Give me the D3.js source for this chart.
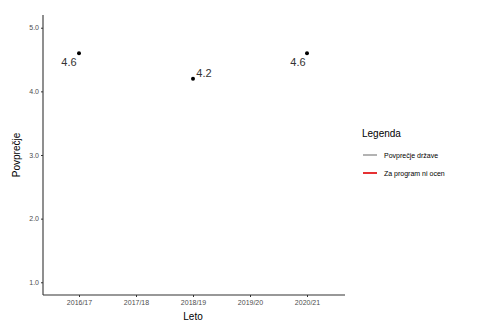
<!DOCTYPE html>
<html><head><meta charset="utf-8">
<script src="https://cdn.jsdelivr.net/npm/d3@7"></script>
<style>body{margin:0;background:#fff;} svg{display:block;font-family:"Liberation Sans",Arial,sans-serif;}</style>
</head><body>
<svg id="c" width="478" height="323"></svg>
<script>
const years = ["2016/17","2017/18","2018/19","2019/20","2020/21"];
const values = [4.6, null, 4.2, null, 4.6];
const labelText = ["4.6", null, "4.2", null, "4.6"];
const yTicks = [1.0, 2.0, 3.0, 4.0, 5.0];
const legendTitle = "Legenda";
const legendItems = ["Povprečje države", "Za program ni ocen"];
const legendColors = ["#808080", "#e41a1c"];
// label offsets (repel-like placement), px
const labelDx = [-10, 0, 11, 0, -9];
const labelDy = [13, 0, -2, 0, 13];

const svg = d3.select("#c");
const m = {l:43, r:133, t:15, b:28};
const W = 478, H = 323;
const x = d3.scalePoint().domain(years).range([79, 307]);
const y = d3.scaleLinear().domain([0.8, 5.2]).range([H - m.b, m.t]);

const g = svg.append("g");
// axes
const yAxis = d3.axisLeft(y).tickValues(yTicks).tickFormat(d3.format(".1f")).tickSize(2).tickPadding(2);
const ya = g.append("g").attr("transform", `translate(${m.l},0)`).call(yAxis);
const xAxis = d3.axisBottom(x).tickSize(2).tickPadding(3);
const xa = g.append("g").attr("transform", `translate(0,${H - m.b})`).call(xAxis);
[ya, xa].forEach(a => {
  a.select(".domain").remove();
  a.selectAll(".tick line").attr("stroke", "#333");
  a.selectAll(".tick text").attr("fill", "#4d4d4d").style("font-size", "7px");
});
g.append("line").attr("x1", m.l).attr("x2", m.l).attr("y1", m.t).attr("y2", H - m.b).attr("stroke", "#333").attr("stroke-width", 1.1);
g.append("line").attr("x1", m.l).attr("x2", 345).attr("y1", H - m.b).attr("y2", H - m.b).attr("stroke", "#333").attr("stroke-width", 1.1);

// axis titles
svg.append("text").attr("x", 193).attr("y", 320).attr("text-anchor", "middle").style("font-size", "10px").attr("fill", "#000").text("Leto");
svg.append("text").attr("transform", "translate(20,155) rotate(-90)").attr("text-anchor", "middle").style("font-size", "10px").attr("fill", "#000").text("Povprečje");

// points
const pts = years.map((yr, i) => ({yr, v: values[i], lab: labelText[i], dx: labelDx[i], dy: labelDy[i]})).filter(d => d.v != null);
g.selectAll("circle.pt").data(pts).enter().append("circle")
  .attr("cx", d => x(d.yr)).attr("cy", d => y(d.v)).attr("r", 2).attr("fill", "#000");
g.selectAll("text.lab").data(pts).enter().append("text")
  .attr("x", d => x(d.yr) + d.dx).attr("y", d => y(d.v) + d.dy)
  .attr("text-anchor", "middle").style("font-size", "11px").attr("fill", "#333").text(d => d.lab);

// legend
const lg = svg.append("g").attr("transform", "translate(362,0)");
lg.append("text").attr("x", 0).attr("y", 137).style("font-size", "10px").attr("fill", "#000").text(legendTitle);
legendItems.forEach((t, i) => {
  const yy = 155 + i * 18;
  lg.append("line").attr("x1", 1).attr("x2", 15).attr("y1", yy).attr("y2", yy).attr("stroke", legendColors[i]).attr("stroke-width", i === 1 ? 1.8 : 1.2);
  lg.append("text").attr("x", 22).attr("y", yy + 2.5).style("font-size", "7px").attr("fill", "#000").text(t);
});
</script>
</body></html>
